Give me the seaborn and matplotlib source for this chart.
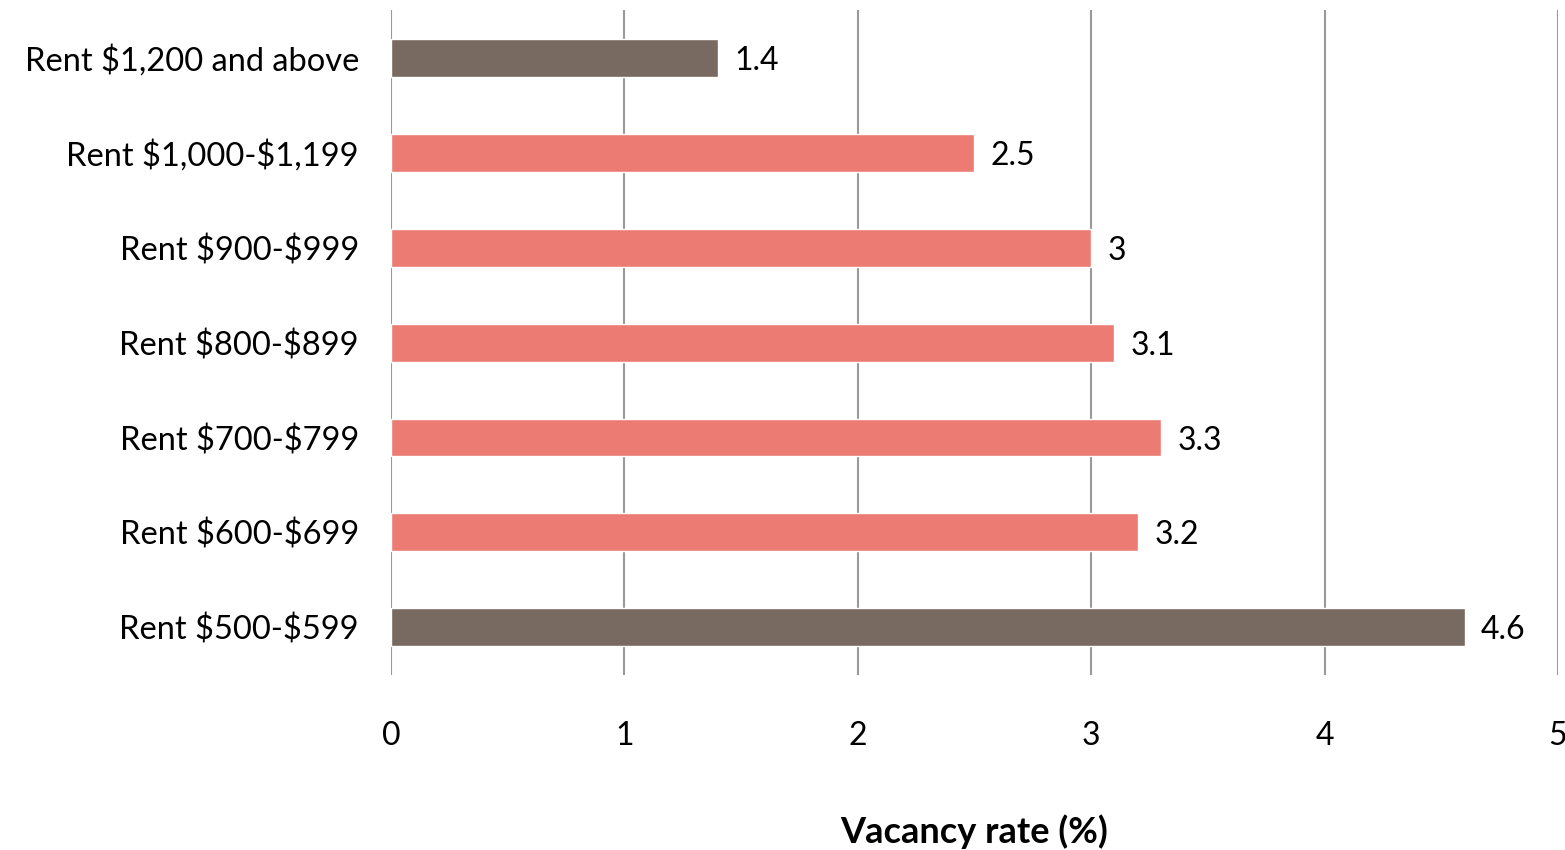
import pandas as pd
import seaborn as sns
import matplotlib.pyplot as plt

# Chart data
categories = ["Rent $1,200 and above", "Rent $1,000-$1,199", "Rent $900-$999",
              "Rent $800-$899", "Rent $700-$799", "Rent $600-$699", "Rent $500-$599"]
vacancy = [1.4, 2.5, 3, 3.1, 3.3, 3.2, 4.6]
value_labels = ["1.4", "2.5", "3", "3.1", "3.3", "3.2", "4.6"]
highlight = ["high", "mid", "mid", "mid", "mid", "mid", "low"]

df = pd.DataFrame({"Category": categories, "Vacancy": vacancy, "Group": highlight})

sns.set_style("white")
plt.rcParams['font.family'] = ['Lato', 'DejaVu Sans']
plt.rcParams['text.parse_math'] = False  # keep the $ signs literal

fig = plt.figure(figsize=(15.65, 8.5), dpi=100)
ax = fig.add_axes([0.2498, 0.206, 0.7457, 0.782])

palette = {"high": "#786A61", "mid": "#EC7B73", "low": "#786A61"}
sns.barplot(data=df, x="Vacancy", y="Category", hue="Group", palette=palette,
            dodge=False, legend=False, width=0.4, saturation=1, ax=ax, zorder=3)

# value labels next to each bar
for i, (v, lab) in enumerate(zip(vacancy, value_labels)):
    ax.text(v + 0.07, i, lab, va="center_baseline", ha="left", fontsize=23, color="black")

ax.set_xlim(0, 5)
ax.set_ylim(6.5, -0.5)
ax.set_xticks([0, 1, 2, 3, 4, 5])
ax.set_xticklabels(["0", "1", "2", "3", "4", "5"])
ax.xaxis.grid(True, color="#999999", linewidth=1.5, zorder=0)
ax.set_axisbelow(True)
for s in ax.spines.values():
    s.set_visible(False)
ax.tick_params(axis="x", length=0, pad=33, labelsize=23, labelcolor="black")
ax.tick_params(axis="y", length=0, pad=23, labelsize=23.5, labelcolor="black")
for t in ax.get_yticklabels():
    t.set_verticalalignment("center_baseline")
ax.set_ylabel("")
ax.set_xlabel("Vacancy rate (%)", fontsize=26, fontweight="bold", labelpad=46, color="black")

plt.savefig("out.png", dpi=100)
